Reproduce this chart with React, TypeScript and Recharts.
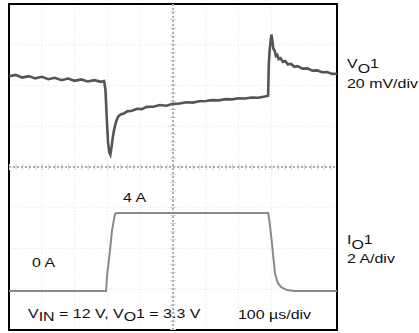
import React from "react";
import { LineChart, Line, XAxis, YAxis, CartesianGrid, ReferenceLine, ReferenceArea } from "recharts";

// time in µs (100 µs/div), voltage deviation in mV (20 mV/div), current in A
const voltageTime = [0, 20, 40, 60, 80, 100, 120, 140, 160, 180, 200, 220, 240, 260, 280, 290, 294, 298, 302, 306, 309, 312, 316, 320, 326, 332, 340, 350, 360, 375, 390, 405, 420, 440, 460, 480, 500, 520, 540, 560, 580, 600, 620, 640, 660, 680, 700, 720, 740, 760, 780, 790, 792, 794, 797, 800, 803, 806, 810, 814, 818, 822, 828, 835, 842, 850, 860, 870, 880, 895, 910, 925, 940, 955, 970, 985, 1000];
const voltageMv = [44.5, 45.2, 43.9, 44.6, 43.5, 44.3, 43.1, 43.8, 42.6, 43.4, 42.3, 43.0, 42.0, 42.6, 41.8, 42.2, 38, 24, 12, 7, 6, 9, 14, 18, 22, 24.5, 25.8, 26.2, 27.3, 27.6, 28.6, 28.4, 29.5, 29.6, 30.4, 30.1, 31.0, 31.2, 31.8, 31.6, 32.3, 32.4, 32.8, 32.7, 33.3, 33.2, 33.7, 33.6, 34.1, 34.0, 34.6, 35.0, 50, 56, 61, 65, 62, 58, 57, 54.5, 55, 53, 53.4, 51.6, 52, 50.4, 50.6, 49.2, 49.5, 48.3, 48.4, 47.3, 47.4, 46.5, 46.6, 45.7, 45.8];

const currentTime = [0, 296, 299, 308, 314, 323, 329, 790, 794, 798, 802, 806, 811, 816, 820, 830, 848, 870, 1000];
const currentA = [0, 0, 0.8, 2.1, 3.1, 3.95, 4, 4, 3.6, 3.0, 2.4, 1.7, 0.9, 0.6, 0.4, 0.2, 0.05, 0, 0];

const timeTicks = [0, 100, 200, 300, 400, 500, 600, 700, 800, 900, 1000];
const voltTicks = [-80, -60, -40, -20, 0, 20, 40, 60, 80];

const voltageData = voltageTime.map((t, k) => ({ t, v: voltageMv[k] }));
const currentData = currentTime.map((t, k) => ({ t, i: currentA[k] }));

const FONT = "Arial, 'Liberation Sans', sans-serif";
const SX = 1.33;

function Txt({ x, y, children }: { x: number; y: number; children: React.ReactNode }) {
  return (
    <text transform={`translate(${x},${y}) scale(${SX},1)`} x={0} y={0} fontSize={12} fontFamily={FONT} fill="#111">
      {children}
    </text>
  );
}

export default function App() {
  return (
    <div style={{ position: "absolute", left: 0, top: 0, width: 419, height: 333, background: "#fff" }}>
      <LineChart width={419} height={333} margin={{ top: 4, right: 82, bottom: 3, left: 9 }}>
        <XAxis type="number" dataKey="t" domain={[0, 1000]} ticks={timeTicks} hide allowDataOverflow />
        <YAxis yAxisId="v" type="number" domain={[-80, 80]} ticks={voltTicks} hide allowDataOverflow />
        <YAxis yAxisId="i" type="number" domain={[-2, 14.72]} hide allowDataOverflow />
        <CartesianGrid yAxisId="v" stroke="#e6e6e6" strokeDasharray="1 2" />
        <ReferenceLine yAxisId="v" x={500} stroke="#d0d0d0" strokeWidth={6} strokeDasharray="1 7.15" />
        <ReferenceLine yAxisId="v" y={0} stroke="#d0d0d0" strokeWidth={6} strokeDasharray="1 5.56" />
        <ReferenceLine yAxisId="v" x={500} stroke="#b0b0b0" strokeWidth={2} strokeDasharray="2 2" />
        <ReferenceLine yAxisId="v" y={0} stroke="#b0b0b0" strokeWidth={2} strokeDasharray="2 2" />
        <Line
          yAxisId="i"
          data={currentData}
          dataKey="i"
          type="linear"
          stroke="#8a8a8a"
          strokeWidth={2}
          dot={false}
          isAnimationActive={false}
        />
        <Line
          yAxisId="v"
          data={voltageData}
          dataKey="v"
          type="linear"
          stroke="#555"
          strokeWidth={2.6}
          dot={false}
          isAnimationActive={false}
        />
        <ReferenceArea yAxisId="v" x1={0} x2={1000} y1={-80} y2={80} fill="none" stroke="#000" strokeWidth={2} ifOverflow="visible" />
      </LineChart>
      <svg width={419} height={333} style={{ position: "absolute", left: 0, top: 0, pointerEvents: "none" }}>
        <Txt x={123} y={202}>4 A</Txt>
        <Txt x={32} y={267}>0 A</Txt>
        <Txt x={28} y={318}>
          V<tspan dy={3}>IN</tspan>
          <tspan dy={-3}> = 12 V, V</tspan>
          <tspan dy={3}>O</tspan>
          <tspan dy={-3}>1 = 3.3 V</tspan>
        </Txt>
        <Txt x={238} y={319}>100 µs/div</Txt>
        <Txt x={347} y={68}>
          V<tspan dy={5}>O</tspan>
          <tspan dy={-5}>1</tspan>
        </Txt>
        <Txt x={347} y={88}>20 mV/div</Txt>
        <Txt x={347} y={244}>
          I<tspan dy={5}>O</tspan>
          <tspan dy={-5}>1</tspan>
        </Txt>
        <Txt x={347} y={263}>2 A/div</Txt>
      </svg>
    </div>
  );
}
